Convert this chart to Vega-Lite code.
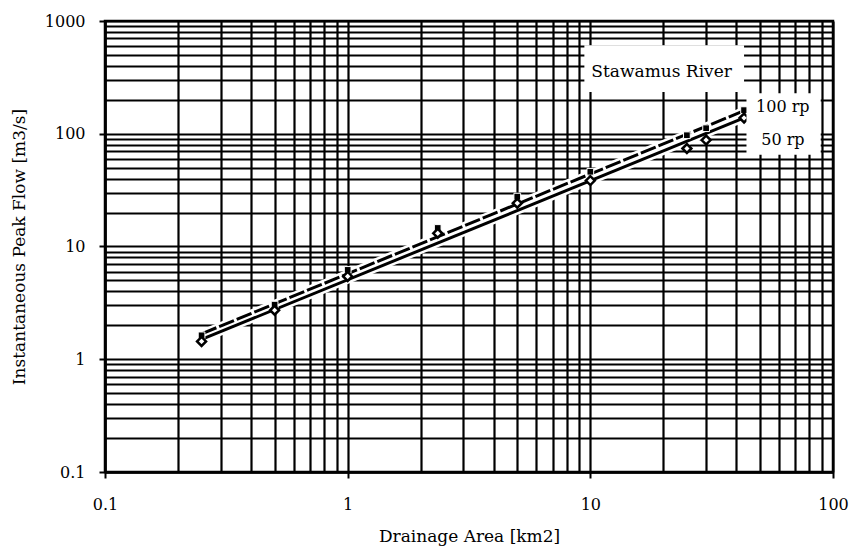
{
  "$schema": "https://vega.github.io/schema/vega-lite/v6.json",
  "autosize": {"type": "none"},
  "width": 728,
  "height": 451,
  "padding": {"left": 105, "top": 21, "right": 21, "bottom": 81},
  "background": "white",
  "config": {
    "font": "DejaVu Serif",
    "view": {"stroke": "black", "strokeWidth": 2.5},
    "axis": {
      "labelFont": "DejaVu Serif",
      "labelFontSize": 16,
      "labelColor": "black",
      "titleFont": "DejaVu Serif",
      "titleFontSize": 17,
      "titleFontWeight": "normal",
      "titleColor": "black",
      "domainColor": "black",
      "domainWidth": 2.5,
      "tickColor": "black",
      "tickWidth": 2,
      "tickSize": 6,
      "gridColor": "black",
      "gridOpacity": 1,
      "gridWidth": 2.2,
      "labelOverlap": false,
      "labelFlush": false
    }
  },
  "datasets": {
    "points": [
      {"area": 0.25, "flow": 1.63, "series": "100 rp"},
      {"area": 0.5, "flow": 3.05, "series": "100 rp"},
      {"area": 1, "flow": 6.2, "series": "100 rp"},
      {"area": 2.35, "flow": 14.6, "series": "100 rp"},
      {"area": 5, "flow": 27.7, "series": "100 rp"},
      {"area": 10, "flow": 46, "series": "100 rp"},
      {"area": 25, "flow": 97, "series": "100 rp"},
      {"area": 30, "flow": 112, "series": "100 rp"},
      {"area": 43, "flow": 162, "series": "100 rp"},
      {"area": 0.25, "flow": 1.44, "series": "50 rp"},
      {"area": 0.5, "flow": 2.72, "series": "50 rp"},
      {"area": 1, "flow": 5.43, "series": "50 rp"},
      {"area": 2.35, "flow": 13.1, "series": "50 rp"},
      {"area": 5, "flow": 24.2, "series": "50 rp"},
      {"area": 10, "flow": 38.4, "series": "50 rp"},
      {"area": 25, "flow": 74, "series": "50 rp"},
      {"area": 30, "flow": 88, "series": "50 rp"},
      {"area": 43, "flow": 138, "series": "50 rp"}
    ],
    "trend": [
      {"area": 0.25, "flow": 1.68, "series": "100 rp"},
      {"area": 43, "flow": 160, "series": "100 rp"},
      {"area": 0.25, "flow": 1.5, "series": "50 rp"},
      {"area": 43, "flow": 138, "series": "50 rp"}
    ]
  },
  "layer": [
    {
      "encoding": {
        "x": {
          "field": "area",
          "type": "quantitative",
          "title": "Drainage Area [km2]",
          "scale": {"type": "log", "domain": [0.1, 100], "nice": false},
          "axis": {
            "values": [0.1, 0.2, 0.3, 0.4, 0.5, 0.6, 0.7, 0.8, 0.9, 1, 2, 3, 4, 5, 6, 7, 8, 9, 10, 20, 30, 40, 50, 60, 70, 80, 90, 100],
            "grid": true,
            "format": "~g",
            "labelExpr": "abs(log(datum.value) / LN10 - round(log(datum.value) / LN10)) < 0.000001 ? datum.label : ''",
            "tickOpacity": {"condition": {"test": "abs(log(datum.value) / LN10 - round(log(datum.value) / LN10)) < 0.000001", "value": 1}, "value": 0},
            "labelPadding": 18,
            "titlePadding": 16
          }
        },
        "y": {
          "field": "flow",
          "type": "quantitative",
          "title": "Instantaneous Peak Flow [m3/s]",
          "scale": {"type": "log", "domain": [0.1, 1000], "nice": false},
          "axis": {
            "values": [0.1, 0.2, 0.3, 0.4, 0.5, 0.6, 0.7, 0.8, 0.9, 1, 2, 3, 4, 5, 6, 7, 8, 9, 10, 20, 30, 40, 50, 60, 70, 80, 90, 100, 200, 300, 400, 500, 600, 700, 800, 900, 1000],
            "grid": true,
            "format": "~g",
            "labelExpr": "abs(log(datum.value) / LN10 - round(log(datum.value) / LN10)) < 0.000001 ? datum.label : ''",
            "tickOpacity": {"condition": {"test": "abs(log(datum.value) / LN10 - round(log(datum.value) / LN10)) < 0.000001", "value": 1}, "value": 0},
            "labelPadding": 14,
            "titlePadding": 16
          }
        }
      },
      "layer": [
        {
          "data": {"name": "trend"},
          "mark": {"type": "line", "stroke": "white", "strokeWidth": 8},
          "encoding": {"detail": {"field": "series"}}
        },
        {
          "data": {"name": "trend"},
          "transform": [{"filter": "datum.series === '50 rp'"}],
          "mark": {"type": "line", "stroke": "black", "strokeWidth": 3},
          "encoding": {}
        },
        {
          "data": {"name": "trend"},
          "transform": [{"filter": "datum.series === '100 rp'"}],
          "mark": {"type": "line", "stroke": "black", "strokeWidth": 3, "strokeDash": [16, 3]},
          "encoding": {}
        },
        {
          "data": {"name": "points"},
          "transform": [{"filter": "datum.series === '100 rp'"}],
          "mark": {"type": "point", "shape": "square", "filled": true, "fill": "black", "stroke": "white", "strokeWidth": 1, "size": 45, "opacity": 1}
        },
        {
          "data": {"name": "points"},
          "transform": [{"filter": "datum.series === '50 rp'"}],
          "mark": {"type": "point", "shape": "diamond", "filled": true, "fill": "white", "stroke": "black", "strokeWidth": 2.5, "size": 80, "opacity": 1}
        }
      ]
    },
    {
      "data": {"values": [{"label": "Stawamus River"}]},
      "layer": [
        {
          "mark": {"type": "rect", "fill": "white"},
          "encoding": {
            "x": {"datum": 9.45, "type": "quantitative"},
            "x2": {"datum": 43},
            "y": {"datum": 609, "type": "quantitative"},
            "y2": {"datum": 234}
          }
        },
        {
          "mark": {"type": "text", "align": "left", "baseline": "middle", "font": "DejaVu Serif", "fontSize": 17, "color": "black", "dx": 1},
          "encoding": {
            "x": {"datum": 10, "type": "quantitative"},
            "y": {"datum": 352, "type": "quantitative"},
            "text": {"field": "label"}
          }
        }
      ]
    },
    {
      "data": {"values": [{"label": "100 rp"}]},
      "layer": [
        {
          "mark": {"type": "rect", "fill": "white"},
          "encoding": {
            "x": {"datum": 44, "type": "quantitative"},
            "x2": {"datum": 89},
            "y": {"datum": 229, "type": "quantitative"},
            "y2": {"datum": 65}
          }
        },
        {
          "mark": {"type": "text", "align": "left", "baseline": "middle", "font": "DejaVu Serif", "fontSize": 16, "color": "black"},
          "encoding": {
            "x": {"datum": 48.2, "type": "quantitative"},
            "y": {"datum": 172, "type": "quantitative"},
            "text": {"field": "label"}
          }
        }
      ]
    },
    {
      "data": {"values": [{"label": "50 rp"}]},
      "mark": {"type": "text", "align": "left", "baseline": "middle", "font": "DejaVu Serif", "fontSize": 16, "color": "black"},
      "encoding": {
        "x": {"datum": 50.6, "type": "quantitative"},
        "y": {"datum": 88, "type": "quantitative"},
        "text": {"field": "label"}
      }
    }
  ]
}
